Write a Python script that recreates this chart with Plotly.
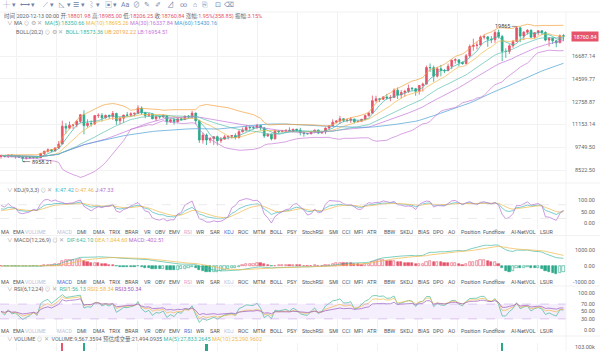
import numpy as np
import pandas as pd
import plotly.graph_objects as go

W, H = 600, 351
RED = "#e5546a"
GRN = "#2aa88a"
C_TEAL = "#3ab7a6"
C_YEL = "#f0b94a"
C_PUR = "#c476dc"
C_BLUE = "#4a9fd6"
C_ORG = "#f3a23f"
FONT = "Roboto, 'Noto Sans CJK SC', sans-serif"

# ---------------- data (daily, 2020-07-10 .. 2020-12-13) ----------------
dates = pd.date_range("2020-07-10", periods=157, freq="D").strftime("%Y-%m-%d").tolist()

closes = [
    9286, 9235, 9303, 9243, 9254, 9197, 9133, 9154, 9170, 9208, 9161, 9390, 9518, 9603, 9538, 9700, 9932, 11030, 10908, 11100, 11112, 11352,
    11801, 11071, 11220, 11191, 11744, 11763, 11595, 11762, 11681, 11893, 11393, 11565, 11780, 11770, 11865, 11911, 12281, 11946, 11755, 11862, 11523, 11681, 11653, 11751, 11328, 11462, 11322, 11531, 11469, 11712, 11656,
    11920, 11390, 10170, 10471, 10168, 10256, 10373, 10127, 10222, 10363, 10400, 10442, 10324, 10680, 10786, 10955, 10940, 10933, 11080, 10920, 10417, 10529, 10241, 10736, 10686, 10728, 10774, 10693, 10840, 10776,
    10619, 10570, 10549, 10667, 10788, 10600, 10668, 10910, 11050, 11297, 11370, 11529, 11420, 11427, 11502, 11320, 11362, 11497, 11745, 11913, 12823, 12965, 12931, 13108, 13031, 13068, 13636, 13266, 13456, 13560, 13791,
    13761, 13549, 14023, 14145, 15590, 15580, 14818, 15475, 15328, 15297, 15701, 16276, 16317, 16069, 15957, 16713, 17659, 17777, 17802, 18656, 18682, 18420, 18365, 19160, 18720, 17150, 17139, 17719, 18185, 19696,
    18765, 19205, 19422, 18650, 19148, 19359, 19166, 18324, 18541, 18254, 18036, 18802, 18760.84,
]
highs = [
    9320, 9310, 9340, 9345, 9275, 9275, 9210, 9190, 9190, 9250, 9220, 9430, 9540, 9680, 9640, 9740, 10111, 11400, 11240, 11340, 11170, 11450,
    11860, 12123, 11490, 11420, 11786, 11900, 11915, 11810, 11806, 12067, 11940, 11650, 11800, 12000, 11980, 11930, 12478, 12400, 12020, 11890, 11890, 11700, 11718, 11830, 11770, 11535, 11590, 11545, 11590, 11720, 11780,
    12080, 11950, 11460, 10630, 10570, 10350, 10400, 10440, 10350, 10480, 10410, 10480, 10580, 10800, 10950, 11100, 11040, 11040, 11180, 11080, 10990, 10575, 10550, 10790, 10760, 10800, 10800, 10960, 10860, 10860,
    10930, 10670, 10600, 10690, 10800, 10800, 10680, 10950, 11100, 11490, 11440, 11730, 11560, 11550, 11630, 11540, 11400, 11500, 11820, 12000, 13217, 13200, 13030, 13170, 13350, 13250, 13790, 13860, 13650, 13680, 14100,
    13900, 13830, 14070, 14260, 15770, 15970, 15770, 15650, 15840, 15460, 15960, 16340, 16480, 16330, 16140, 16880, 17860, 18480, 18180, 18820, 18950, 18700, 18770, 19420, 19490, 18900, 17460, 17880, 18350, 19865,
    19845, 19310, 19550, 19520, 19170, 19420, 19420, 19300, 18640, 18560, 18290, 18950, 18985.00,
]
lows = [
    9110, 9190, 9150, 9200, 9110, 9170, 8958.21, 9060, 9100, 9100, 9120, 9150, 9280, 9440, 9480, 9500, 9650, 9920, 10560, 10840, 10840, 10960,
    11220, 10518, 10950, 11000, 11100, 11580, 11340, 11535, 11520, 11450, 11125, 11150, 11260, 11700, 11685, 11690, 11850, 11800, 11560, 11670, 11500, 11360, 11520, 11590, 11120, 11260, 11140, 11280, 11430, 11450, 11570,
    11530, 11160, 10000, 9960, 9875, 9985, 9880, 9850, 10000, 10200, 10200, 10260, 10200, 10250, 10630, 10680, 10740, 10820, 10890, 10760, 10300, 10350, 10140, 10200, 10560, 10650, 10620, 10660, 10640, 10690,
    10450, 10370, 10510, 10520, 10630, 10530, 10560, 10530, 10830, 11050, 11210, 11180, 11300, 11290, 11250, 11220, 11300, 11340, 11410, 11680, 11900, 12700, 12720, 12880, 12900, 12780, 13050, 12950, 12990, 13130, 13420,
    13600, 13200, 13290, 13530, 14100, 15190, 14330, 14700, 14800, 15090, 15280, 15440, 15950, 15700, 15860, 15870, 16550, 17210, 17350, 17750, 18400, 17610, 18000, 18020, 18500, 16200, 16500, 16880, 17510, 18180,
    18100, 18330, 18930, 18570, 18500, 18860, 18900, 18200, 17650, 17910, 17570, 18020, 18206.25,
]
first_open = 9226
last_open = 18801.98
opens = [first_open] + closes[:-1]
opens[-1] = last_open

volumes_k = [
    38, 25, 30, 40, 40, 35, 45, 30, 22, 28, 35, 55, 55, 55, 45, 45, 70, 130, 95, 70, 60, 65,
    90, 115, 65, 60, 75, 55, 60, 40, 40, 60, 75, 60, 60, 50, 45, 40, 80, 70, 70, 50, 60, 40, 35, 40, 65, 50, 60, 50, 30, 30, 45,
    75, 80, 90, 85, 110, 60, 55, 65, 45, 45, 40, 30, 40, 60, 55, 55, 55, 45, 35, 40, 70, 45, 55, 55, 45, 30, 30, 50, 40, 40,
    55, 55, 25, 25, 35, 45, 30, 50, 45, 50, 30, 50, 40, 35, 40, 40, 20, 20, 45, 55, 90, 70, 50, 35, 40, 55, 70, 75, 60, 60, 55,
    40, 55, 65, 70, 90, 80, 90, 55, 80, 50, 60, 75, 60, 45, 40, 70, 90, 90, 75, 70, 60, 65, 65, 90, 80, 120, 90, 60, 45, 80,
    90, 60, 55, 60, 45, 35, 40, 60, 75, 55, 65, 40, 9.567,
]

price_ticks = [16687.14, 14599.77, 12758.87, 11153.14, 9749.50, 8522.50]
kdj_ticks = [100, 50, 0]
macd_ticks = [1000, 0, -1000]
rsi_ticks = [100, 70, 50, 30, 0]
vol_ticks = [103000]

legend_ohlc = ["2020-12-13 00:00", "18801.98", "18985.00", "18206.25", "18760.84", "1.95%(358.85)", "3.15%"]
legend_ma = ["18350.66", "18695.26", "16337.84", "15430.16"]
legend_boll = ["18573.36", "20192.22", "16954.51"]
legend_kdj = ["47.42", "47.46", "47.33"]
legend_macd = ["642.10", "1,044.60", "-402.51"]
legend_rsi = ["56.13", "58.34", "50.34"]
legend_vol = ["9,567.3594", "21,494.0935", "27,833.2645", "25,290.9602"]

indicators = ["MA", "EMA", "VOLUME", "MACD", "DMI", "DMA", "TRIX", "BRAR", "VR", "OBV", "EMV", "RSI", "WR", "SAR",
              "KDJ", "ROC", "MTM", "BOLL", "PSY", "StochRSI", "SMI", "CCI", "MFI", "ATR", "BBW", "SKDJ", "BIAS",
              "DPO", "AO", "Position", "Fundflow", "AI-NetVOL", "LSUR"]
indicator_x = [5.5, 19, 35.5, 65, 82, 99, 115, 132, 147, 160, 175, 188, 200, 215, 229, 243, 259, 276, 292,
               313, 333, 346, 358, 372, 390, 406, 423, 438, 451, 470, 494, 523, 546]

# ---------------- indicators ----------------
n = len(closes)
idx = list(range(n))
c = pd.Series(closes, dtype=float)
hi = pd.Series(highs, dtype=float)
lo = pd.Series(lows, dtype=float)

ma5 = c.rolling(5, min_periods=1).mean()
ma10 = c.rolling(10, min_periods=1).mean()
ma30 = c.rolling(30, min_periods=1).mean()
ma60 = c.rolling(60, min_periods=1).mean()
bmid = c.rolling(20, min_periods=1).mean()
bstd = c.rolling(20, min_periods=1).std(ddof=0)
ub = bmid + 2 * bstd
lb = bmid - 2 * bstd

llv = lo.rolling(9, min_periods=1).min()
hhv = hi.rolling(9, min_periods=1).max()
rsv = ((c - llv) / (hhv - llv) * 100).fillna(50)
K, D = [], []
k, d = 50.0, 50.0
for r in rsv:
    k = 2 / 3 * k + r / 3
    d = 2 / 3 * d + k / 3
    K.append(k)
    D.append(d)
K = np.array(K)
D = np.array(D)
J = 3 * K - 2 * D

ema12 = c.ewm(span=12, adjust=False).mean()
ema26 = c.ewm(span=26, adjust=False).mean()
dif = ema12 - ema26
dea = dif.ewm(span=9, adjust=False).mean()
hist = 2 * (dif - dea)

dvals = c.diff().fillna(0).values
def rsi(N):
    ab = float(np.mean(np.abs(dvals[1:11])))
    up = ab / 2
    out = []
    for i, x in enumerate(dvals):
        if i > 0:
            up = (up * (N - 1) + max(x, 0)) / N
            ab = (ab * (N - 1) + abs(x)) / N
        out.append(up / ab * 100)
    return np.array(out)
rsi6, rsi12, rsi24 = rsi(6), rsi(12), rsi(24)

vol = [v * 1000 for v in volumes_k]

# ---------------- geometry ----------------
XR = [-0.28, 156.7]
XD = [0, 566 / W]
def dom(top, bot):
    return [1 - bot / H, 1 - top / H]

traces = []
traces.append(go.Candlestick(
    x=idx, open=opens, high=highs, low=lows, close=closes,
    increasing=dict(line=dict(color=RED, width=0.8), fillcolor=RED),
    decreasing=dict(line=dict(color=GRN, width=0.8), fillcolor=GRN),
    whiskerwidth=0, xaxis="x", yaxis="y", hoverinfo="skip"))
for ser, col in [(ma5, C_TEAL), (ma10, C_YEL), (ma30, C_PUR), (ma60, C_BLUE),
                 (ub, C_ORG), (lb, "#c77ad6"), (bmid, "#5cc0b0")]:
    traces.append(go.Scatter(x=idx, y=ser, mode="lines", line=dict(color=col, width=0.7),
                             xaxis="x", yaxis="y", hoverinfo="skip"))

for ser, col in [(K, "#3fb7c2"), (D, C_YEL), (J, "#b46fd4")]:
    traces.append(go.Scatter(x=idx, y=ser, mode="lines", line=dict(color=col, width=0.7),
                             xaxis="x2", yaxis="y2", hoverinfo="skip"))

hv = hist.values
fills, lines = [], []
for i in range(n):
    col = RED if hv[i] >= 0 else GRN
    rising = i > 0 and hv[i] > hv[i - 1]
    lines.append(col)
    fills.append("rgba(255,255,255,1)" if rising else col)
traces.append(go.Bar(x=idx, y=hv, marker=dict(color=fills, line=dict(color=lines, width=0.6)),
                     width=0.62, xaxis="x3", yaxis="y3", hoverinfo="skip"))
for ser, col in [(dif, "#48bba6"), (dea, C_YEL)]:
    traces.append(go.Scatter(x=idx, y=ser, mode="lines", line=dict(color=col, width=0.7),
                             xaxis="x3", yaxis="y3", hoverinfo="skip"))

for ser, col in [(rsi6, "#45b99a"), (rsi12, C_YEL), (rsi24, "#9a5bbf")]:
    traces.append(go.Scatter(x=idx, y=ser, mode="lines", line=dict(color=col, width=0.7),
                             xaxis="x4", yaxis="y4", hoverinfo="skip"))

vcols = [RED if closes[i] >= opens[i] else GRN for i in range(n)]
traces.append(go.Bar(x=idx, y=vol, marker=dict(color=vcols, line=dict(width=0)), width=0.6,
                     xaxis="x5", yaxis="y5", hoverinfo="skip"))

fig = go.Figure(traces)

grid = "#f2f2f2"
xcommon = dict(range=XR, domain=XD, showticklabels=False, showgrid=True, gridcolor=grid, gridwidth=1,
               tick0=4.4, dtick=11.11, zeroline=False, showline=False, ticks="")
lay = dict(
    width=W, height=H, margin=dict(l=0, r=0, t=0, b=0), paper_bgcolor="white", plot_bgcolor="white",
    showlegend=False, font=dict(family=FONT, size=5.5, color="#555"), bargap=0,
    xaxis=dict(**xcommon, rangeslider=dict(visible=False), anchor="y"),
    xaxis2=dict(**xcommon, matches="x", anchor="y2"),
    xaxis3=dict(**xcommon, matches="x", anchor="y3"),
    xaxis4=dict(**xcommon, matches="x", anchor="y4"),
    xaxis5=dict(**xcommon, matches="x", anchor="y5"),
)
ycommon = dict(showticklabels=False, zeroline=False, showline=False, ticks="", gridcolor=grid)
lpp = (np.log10(16687.14) - np.log10(8522.5)) / (170 - 56)
ytop = np.log10(16687.14) + (56 - 12) * lpp
ybot = np.log10(8522.5) - (182 - 170) * lpp
lay["yaxis"] = dict(**ycommon, type="log", range=[ybot, ytop], domain=dom(12, 182),
                    tickvals=price_ticks, showgrid=True)
lay["yaxis2"] = dict(**ycommon, range=[-26, 170], domain=dom(184, 229), tickvals=kdj_ticks, showgrid=False)
lay["yaxis3"] = dict(**ycommon, range=[-1226, 1935], domain=dom(236, 285), tickvals=macd_ticks, showgrid=False)
lay["yaxis4"] = dict(**ycommon, range=[-5.4, 116], domain=dom(287, 332), tickvals=rsi_ticks, showgrid=False)
lay["yaxis5"] = dict(**ycommon, range=[95000, 111000], domain=dom(343, 351), tickvals=vol_ticks, showgrid=False)
fig.update_layout(**lay)

ann = []
def txt(x, y, s, size=5.5, color="#555", anchor="left"):
    ann.append(dict(x=x / W, y=1 - y / H, xref="paper", yref="paper", text=s, showarrow=False,
                    xanchor=anchor, yanchor="middle", font=dict(size=size, color=color, family=FONT)))

def sp(s, col):
    return f"<span style='color:{col}'>{s}</span>"

icon_row = [("┼", 6), ("▾", 14), ("⟷", 25), ("▾", 33), ("⟋", 45), ("▾", 52), ("◺", 62), ("▾", 69),
            ("☰", 76), ("▾", 83), ("⌇", 91), ("▾", 98), ("▣", 108), ("▾", 115), ("Aa", 125), ("⊘", 136),
            ("✎", 147), ("✐", 158), ("⊿", 171), ("∞", 183), ("⌂", 195), ("⎘", 205), ("⊡", 218), ("⌫", 229)]
for s, x in icon_row:
    txt(x, 5, s, size=7, color="#7184a8", anchor="center")

G = "#666"
o_ = legend_ohlc
line1 = (sp("时间 ", G) + sp(o_[0], G) + " " + sp("开:", G) + sp(o_[1], RED) + " " + sp("高:", G) + sp(o_[2], RED)
         + " " + sp("低:", G) + sp(o_[3], RED) + " " + sp("收:", G) + sp(o_[4], RED) + " " + sp("涨幅:", G)
         + sp(o_[5], RED) + " " + sp("振幅:", G) + sp(o_[6], RED))
txt(2, 16, line1)
ICON = sp("⊙ ⚙ ✕", "#aaa")
line2 = (sp("∨", "#999") + " " + sp("MA", G) + " " + ICON + "  " + sp("MA(5):" + legend_ma[0], C_TEAL) + " "
         + sp("MA(10):" + legend_ma[1], C_YEL) + " " + sp("MA(30):" + legend_ma[2], C_PUR) + " "
         + sp("MA(60):" + legend_ma[3], C_BLUE))
txt(5, 24, line2)
line3 = (sp("BOLL(20,2)", G) + " " + ICON + "  " + sp("BOLL:" + legend_boll[0], C_TEAL) + " "
         + sp("UB:" + legend_boll[1], C_ORG) + " " + sp("LB:" + legend_boll[2], C_PUR))
txt(14, 32, line3)

ICON2 = sp("⊙ ✕", "#aaa")
txt(5, 190.5, sp("∨", "#999") + " " + sp("KDJ(9,3,3)", G) + " " + ICON2 + "  " + sp("K:" + legend_kdj[0], "#3fb7c2")
    + " " + sp("D:" + legend_kdj[1], C_YEL) + " " + sp("J:" + legend_kdj[2], "#b46fd4"))
txt(5, 240, sp("∨", "#999") + " " + sp("MACD(12,26,9)", G) + " " + ICON2 + "  " + sp("DIF:" + legend_macd[0], "#48bba6")
    + " " + sp("DEA:" + legend_macd[1], C_YEL) + " " + sp("MACD:" + legend_macd[2], "#b46fd4"))
txt(5, 289.5, sp("∨", "#999") + " " + sp("RSI(6,12,24)", G) + " " + ICON2 + "  " + sp("RSI1:" + legend_rsi[0], "#45b99a")
    + " " + sp("RSI2:" + legend_rsi[1], C_YEL) + " " + sp("RSI3:" + legend_rsi[2], "#9a5bbf"))
txt(5, 339, sp("∨", "#999") + " " + sp("VOLUME", G) + " " + ICON2 + "  " + sp("VOLUME:" + legend_vol[0], G)
    + " " + sp("预估成交量:" + legend_vol[1], G) + " " + sp("MA(5):" + legend_vol[2], C_TEAL)
    + " " + sp("MA(10):" + legend_vol[3], C_YEL))

rows = [(231.5, "KDJ"), (281.5, "MACD"), (330.5, "RSI")]
active = {"VOLUME", "MACD", "RSI", "KDJ"}
for y, cur in rows:
    for name, x in zip(indicators, indicator_x):
        if name == cur:
            col = "#3f6fd8"
        elif name in active:
            col = "#e6a3bf" if name == "RSI" else "#b9c3dc"
        else:
            col = "#555"
        txt(x, y, name, size=5.3, color=col, anchor="center")

def rlab(yref, yval, s):
    ann.append(dict(x=597 / W, xref="paper", y=yval, yref=yref, text=s, showarrow=False, xanchor="right",
                    yanchor="middle", font=dict(size=5.5, color="#666", family=FONT)))
for v in price_ticks:
    rlab("y", np.log10(v), f"{v:.2f}")
for v in kdj_ticks:
    rlab("y2", v, f"{v:.2f}")
for v in macd_ticks:
    rlab("y3", v, f"{v:.2f}")
for v in rsi_ticks:
    rlab("y4", v, f"{v:.2f}")
for v in vol_ticks:
    rlab("y5", v, f"{v/1000:.2f}k")

ann.append(dict(x=599 / W, xref="paper", y=np.log10(closes[-1]), yref="y", text=f"{closes[-1]:.2f}",
                showarrow=False, xanchor="right", yanchor="middle", bgcolor=RED, borderpad=1.5,
                font=dict(size=5.5, color="white", family=FONT)))

ih = int(np.argmax(highs))
il = int(np.argmin(lows))
ann.append(dict(x=ih, y=np.log10(highs[ih]), xref="x", yref="y", text=f"{highs[ih]:.0f}", showarrow=True,
                arrowhead=0, arrowwidth=0.6, arrowcolor="#555", ax=-14, ay=0, font=dict(size=5.5, color="#444")))
ann.append(dict(x=il, y=np.log10(lows[il]), xref="x", yref="y", text=f"{lows[il]:.2f}", showarrow=True,
                arrowhead=2, arrowsize=0.6, arrowwidth=0.6, arrowcolor="#555", ax=19, ay=0,
                font=dict(size=5.5, color="#444")))

shapes = []
shapes.append(dict(type="rect", xref="paper", x0=0, x1=566 / W, yref="y4", y0=30, y1=70,
                   fillcolor="rgba(175,120,235,0.13)", line=dict(width=0), layer="below"))
for lv in (30, 70):
    shapes.append(dict(type="line", xref="paper", x0=0, x1=566 / W, yref="y4", y0=lv, y1=lv,
                       line=dict(color="#c9a8e8", width=0.6, dash="dash")))
for lv in (80, 20):
    shapes.append(dict(type="line", xref="paper", x0=0, x1=566 / W, yref="y2", y0=lv, y1=lv,
                       line=dict(color="#dddddd", width=0.6, dash="dash")))
for yy in (12, 183, 235.5, 286, 336):
    shapes.append(dict(type="line", xref="paper", x0=0, x1=1, yref="paper", y0=1 - yy / H, y1=1 - yy / H,
                       line=dict(color="#eeeeee", width=0.8)))
shapes.append(dict(type="line", xref="paper", x0=566 / W, x1=566 / W, yref="paper", y0=0, y1=1 - 12 / H,
                   line=dict(color="#f0f0f0", width=0.8)))

fig.update_layout(annotations=ann, shapes=shapes)
fig.write_html("out.html")
